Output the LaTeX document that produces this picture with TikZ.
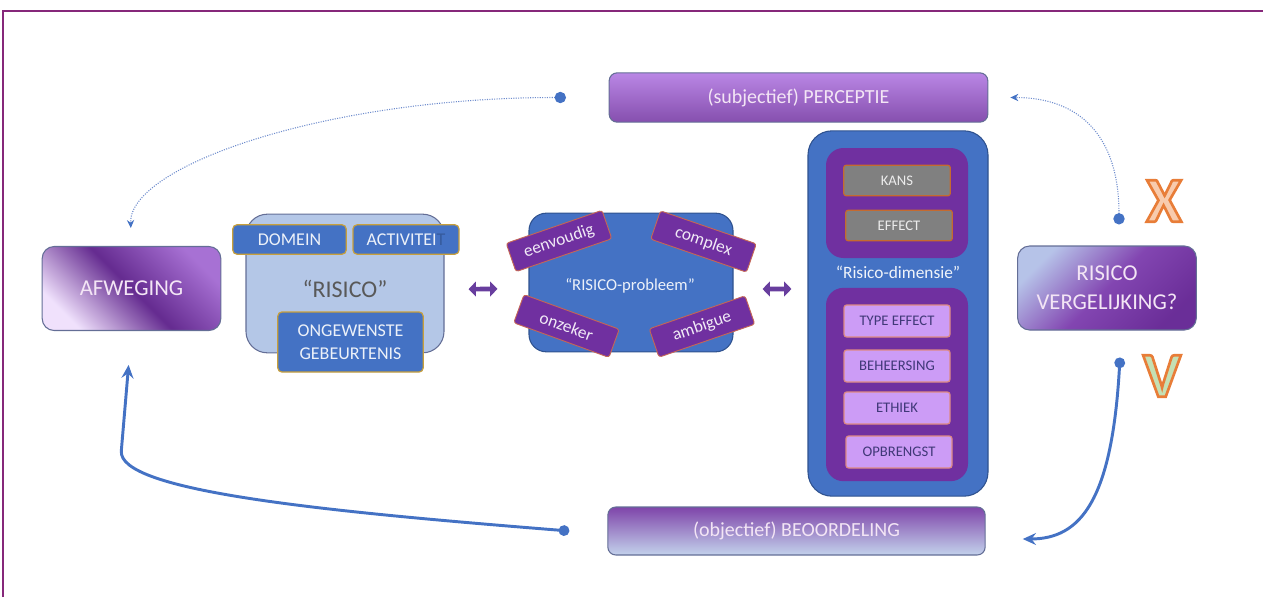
\documentclass[tikz,border=0pt]{standalone}
\usepackage{fontspec}
\setmainfont{Carlito}
\usepackage{xcolor}
\usetikzlibrary{arrows.meta}

\definecolor{kader}{RGB}{134,40,122}
\definecolor{blauw}{RGB}{68,114,196}
\definecolor{donkerblauw}{RGB}{47,82,143}
\definecolor{paars}{RGB}{112,48,160}
\definecolor{donkerpaars}{RGB}{64,56,120}
\definecolor{lichtblauw}{RGB}{180,199,231}
\definecolor{lila}{RGB}{204,156,246}
\definecolor{grijs}{RGB}{128,128,128}
\definecolor{oranje}{RGB}{232,125,55}
\definecolor{lichtoranje}{RGB}{248,203,173}
\definecolor{lichtgroen}{RGB}{197,224,180}
\definecolor{goud}{RGB}{200,160,60}
\definecolor{randgrijs}{RGB}{100,110,150}
\definecolor{pijlpaars}{RGB}{104,62,158}
\definecolor{stippelblauw}{RGB}{110,140,205}
\definecolor{tekstwit}{RGB}{243,229,245}

\newcommand\omlijnd[2]{{\color{#1}\special{pdf:literal 2 Tr 2 w 0.91 0.49 0.22 RG}#2\special{pdf:literal 0 Tr}}}

\tikzset{
  kopvak/.style={draw=randgrijs, line width=0.8pt, rounded corners=6pt, inner sep=0pt,
    text=tekstwit, font=\fontsize{15}{18}\selectfont},
  hoofdvak/.style={draw=randgrijs, line width=0.8pt, rounded corners=9pt, inner sep=0pt,
    text=tekstwit, font=\fontsize{17}{22}\selectfont, align=center,
    minimum width=134pt, minimum height=63pt},
  deelvak/.style={fill=blauw, draw=goud, line width=0.9pt, rounded corners=3pt,
    inner sep=0pt, text=white!90!blauw, font=\fontsize{13.5}{17}\selectfont, align=center},
  kenmerk/.style={fill=paars, draw=oranje!70!paars, line width=0.7pt, rounded corners=2pt,
    minimum width=76pt, minimum height=22.5pt, inner sep=0pt, text=white!90!paars,
    font=\fontsize{13}{15}\selectfont},
  kanskader/.style={fill=grijs, draw=oranje!85!black, line width=0.9pt, rounded corners=2pt,
    minimum width=80pt, minimum height=23pt, inner sep=0pt, text=white!85!grijs,
    font=\fontsize{11}{13}\selectfont},
  dimensievak/.style={fill=lila, draw=oranje!60!lila, line width=0.9pt, rounded corners=2pt,
    minimum width=79.5pt, minimum height=24pt, inner sep=0pt, text=donkerpaars,
    font=\fontsize{11}{13}\selectfont},
  dubbelpijl/.style={pijlpaars, line width=3.5pt,
    {Triangle[length=5.5pt,width=11pt]}-{Triangle[length=5.5pt,width=11pt]}},
  stippel/.style={stippelblauw, line width=0.8pt, densely dotted,
    {Circle[length=8.5pt,color=blauw]}-{Stealth[length=6pt,width=5.5pt,color=blauw]}},
  lijn/.style={blauw, line width=2.2pt,
    {Circle[length=8pt]}-{Stealth[length=10pt,width=9pt,inset=3.5pt]}},
  teken/.style={font=\fontsize{48}{48}\selectfont\bfseries, inner sep=0pt}
}

\begin{document}
\begin{tikzpicture}[x=0.75pt,y=0.75pt]
  \useasboundingbox (0,0) rectangle (1263,-597);
  \draw[kader, line width=1.6pt] (3,-597) -- (3,-11) -- (1263,-11);

  \node[kopvak, top color=lila!80!paars, bottom color=paars!85!white,
    minimum width=284pt, minimum height=37pt] (perc) at (798.5,-97.5) {(subjectief) PERCEPTIE};
  \node[kopvak, top color=paars!90!white, bottom color=lichtblauw!80!white,
    minimum width=283pt, minimum height=36pt] (beo) at (796.5,-531) {(objectief) BEOORDELING};

  \node[hoofdvak, left color=white!70!lila, right color=lila!60!paars,
    middle color=paars!90!black, shading angle=135] (afw) at (131.5,-288.5) {AFWEGING};
  \node[hoofdvak, left color=lichtblauw!90!lila, right color=paars!95!black,
    middle color=paars!80!lila, shading angle=45] (verg) at (1107,-288) {RISICO\\VERGELIJKING?};

  \node[fill=lichtblauw, draw=randgrijs, line width=0.8pt, rounded corners=16pt,
    minimum width=148.5pt, minimum height=104pt] (risico) at (345,-283.5) {};
  \node[text=black!65, font=\fontsize{18}{20}\selectfont] (risicotekst) at (345,-289) {“RISICO”};
  \node[deelvak, minimum width=85pt, minimum height=22pt] (domein) at (289.5,-239.5) {DOMEIN};
  \node[deelvak, minimum width=79.5pt, minimum height=22pt] (activiteit) at (406,-239.5)
    {ACTIVITEI\textcolor{blauw!80!black}{T}};
  \node[deelvak, minimum width=109pt, minimum height=45pt] (ongewenst) at (350.5,-342)
    {ONGEWENSTE\\GEBEURTENIS};

  \node[fill=blauw, draw=donkerblauw, line width=0.8pt, rounded corners=13pt,
    minimum width=153pt, minimum height=104pt] (probleem) at (631,-282.5) {};
  \node[text=white!90!blauw, font=\fontsize{12.5}{15}\selectfont] (probleemtekst) at (630,-286)
    {“RISICO-probleem”};
  \node[kenmerk, rotate=19] (eenvoudig) at (559,-241) {eenvoudig};
  \node[kenmerk, rotate=-19] (complex) at (703.5,-241.5) {complex};
  \node[kenmerk, rotate=-20] (onzeker) at (566.5,-326) {onzeker};
  \node[kenmerk, rotate=19] (ambigue) at (702,-326.5) {ambigue};

  \node[fill=blauw, draw=donkerblauw, line width=0.8pt, rounded corners=18pt,
    minimum width=135pt, minimum height=274pt] (dimbuiten) at (898,-313.5) {};
  \node[fill=paars, rounded corners=13pt, minimum width=106.5pt, minimum height=82.5pt]
    (dimboven) at (897,-203) {};
  \node[fill=paars, rounded corners=13pt, minimum width=106.5pt, minimum height=145pt]
    (dimonder) at (897,-384.5) {};
  \node[text=white!92!blauw, font=\fontsize{13}{15}\selectfont] (dimtekst) at (898,-272)
    {“Risico-dimensie”};
  \node[kanskader] (kans) at (897,-180.5) {KANS};
  \node[kanskader] (effect) at (899,-225.5) {EFFECT};
  \node[dimensievak] (type) at (897,-321) {TYPE EFFECT};
  \node[dimensievak] (beheersing) at (897,-366) {BEHEERSING};
  \node[dimensievak] (ethiek) at (897,-408) {ETHIEK};
  \node[dimensievak] (opbrengst) at (899,-452) {OPBRENGST};

  \node[teken] (kruis) at (1164,-201) {\omlijnd{lichtoranje}{X}};
  \node[teken] (vink) at (1162,-376) {\omlijnd{lichtgroen}{V}};

  \draw[dubbelpijl, shorten <=18pt, shorten >=23.25pt] ([yshift=-4.5pt]risico.east) -- ([yshift=-4.5pt]probleem.west);
  \draw[dubbelpijl, shorten <=21.75pt, shorten >=12pt] ([yshift=-4.9pt]probleem.east) -- ([yshift=18.4pt]dimbuiten.west);

  \draw[stippel, shorten >=13.5pt] ([xshift=-32pt]perc.west) .. controls +(-240,0) and +(-3,80) .. (afw.north);
  \draw[stippel, shorten >=16.5pt] ([xshift=9pt,yshift=15.75pt]verg.north) .. controls +(0,90) and +(90,0) .. (perc.east);
  \draw[lijn, shorten >=25.5pt] ([xshift=-28.5pt]beo.west) .. controls +(-250,20) and +(-3,-40) .. ++(-448,80) -- (afw.south);
  \draw[lijn, shorten >=27.75pt] ([xshift=9.75pt,yshift=-20.25pt]verg.south) .. controls +(-8,-143) and +(95,0) .. ([yshift=-6pt]beo.east);
\end{tikzpicture}
\end{document}
